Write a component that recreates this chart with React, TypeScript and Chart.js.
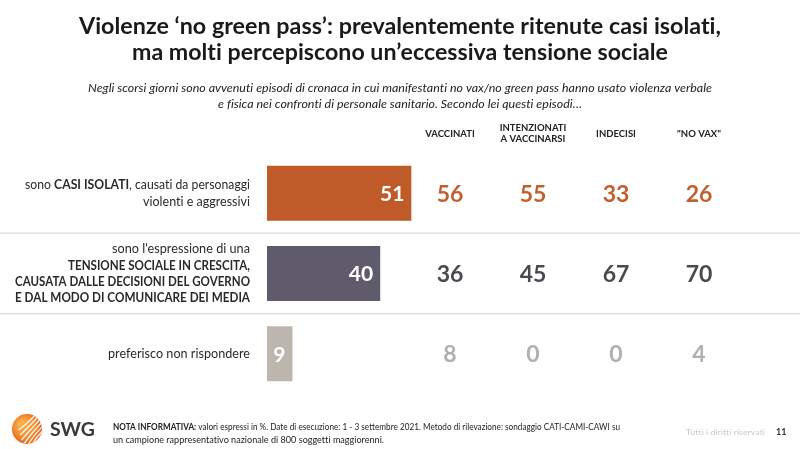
import React, { useEffect, useRef } from "react";
import { Chart, registerables } from "chart.js";

Chart.register(...registerables);

// ---------- DATA ----------
const categories = ["Casi isolati", "Tensione sociale in crescita", "Preferisco non rispondere"];
const totalValues = [51, 40, 9];
const vaccinati = [56, 36, 8];
const intenzionati = [55, 45, 0];
const indecisi = [33, 67, 0];
const noVax = [26, 70, 4];
const columnSeries = [vaccinati, intenzionati, indecisi, noVax];
const columnHeaders = [["VACCINATI"], ["INTENZIONATI", "A VACCINARSI"], ["INDECISI"], ['"NO VAX"']];

type Seg = [string, boolean];
const categoryLabelLines: Seg[][][] = [
  [
    [["sono ", false], ["CASI ISOLATI", true], [", causati da personaggi", false]],
    [["violenti e aggressivi", false]],
  ],
  [
    [["sono l'espressione di una", false]],
    [["TENSIONE SOCIALE IN CRESCITA,", true]],
    [["CAUSATA DALLE DECISIONI DEL GOVERNO", true]],
    [["E DAL MODO DI COMUNICARE DEI MEDIA", true]],
  ],
  [[["preferisco non rispondere", false]]],
];

const titleLines = [
  "Violenze \u2018no green pass\u2019: prevalentemente ritenute casi isolati,",
  "ma molti percepiscono un\u2019eccessiva tensione sociale",
];
const subtitleLines = [
  "Negli scorsi giorni sono avvenuti episodi di cronaca in cui manifestanti no vax/no green pass hanno usato violenza verbale",
  "e fisica nei confronti di personale sanitario. Secondo lei questi episodi\u2026",
];
const noteLine1: Seg[] = [
  ["NOTA INFORMATIVA:", true],
  [" valori espressi in %. Date di esecuzione: 1 - 3 settembre 2021. Metodo di rilevazione: sondaggio CATI-CAMI-CAWI su", false],
];
const noteLine2 = "un campione rappresentativo nazionale di 800 soggetti maggiorenni.";
const rightsText = "Tutti i diritti riservati";
const pageNumber = "11";
const brand = "SWG";

// ---------- STYLE ----------
const FONT = "Lato, 'Open Sans', sans-serif";
const barColors = ["#BF5A29", "#5F5A6C", "#BDB6AF"];
const valueColors = ["#C0602E", "#4A494F", "#B3AFAB"];
const columnX = [450, 533, 616, 699];
const labelLineWidths = [[225, 107], [138, 182, 235, 235], [142]];

function fitText(
  ctx: CanvasRenderingContext2D,
  t: string,
  x: number,
  y: number,
  font: string,
  color: string,
  align: CanvasTextAlign = "center",
  fitW?: number
) {
  ctx.save();
  ctx.font = font;
  (ctx as any).letterSpacing = "0.01px";
  ctx.fillStyle = color;
  ctx.textBaseline = "middle";
  ctx.textAlign = align;
  const w = ctx.measureText(t).width;
  let sx = 1;
  if (fitW) sx = Math.max(0.7, Math.min(1.25, fitW / w));
  ctx.translate(x, y);
  ctx.scale(sx, 1);
  ctx.fillText(t, 0, 0);
  ctx.restore();
}

function drawSegs(
  ctx: CanvasRenderingContext2D,
  segs: Seg[],
  x: number,
  y: number,
  size: number,
  color: string,
  align: "left" | "right",
  fitW?: number
) {
  ctx.save();
  (ctx as any).letterSpacing = "0.01px";
  const fonts = segs.map(([, b]) => `${b ? "bold " : ""}${size}px ${FONT}`);
  const widths = segs.map(([t], i) => {
    ctx.font = fonts[i];
    return ctx.measureText(t).width;
  });
  const total = widths.reduce((a, b) => a + b, 0);
  const sx = fitW ? Math.max(0.7, Math.min(1.3, fitW / total)) : 1;
  ctx.fillStyle = color;
  ctx.textBaseline = "middle";
  ctx.textAlign = "left";
  ctx.translate(align === "right" ? x - total * sx : x, y);
  ctx.scale(sx, 1);
  let cx = 0;
  segs.forEach(([t], i) => {
    ctx.font = fonts[i];
    ctx.fillText(t, cx, 0);
    cx += widths[i];
  });
  ctx.restore();
}

function drawLogo(ctx: CanvasRenderingContext2D) {
  const cx = 27, cy = 429, r = 15;
  ctx.save();
  const g = ctx.createRadialGradient(cx - 6, cy - 6, 2, cx, cy, r + 2);
  g.addColorStop(0, "#F8B04A");
  g.addColorStop(0.6, "#F08A2C");
  g.addColorStop(1, "#DE5A1C");
  ctx.beginPath();
  ctx.arc(cx, cy, r, 0, Math.PI * 2);
  ctx.fillStyle = g;
  ctx.fill();
  ctx.clip();
  ctx.strokeStyle = "rgba(255,255,255,0.9)";
  ctx.lineWidth = 1.4;
  for (let k = -3; k <= 3; k++) {
    ctx.beginPath();
    const off = k * 5;
    ctx.moveTo(cx - 4 + off * 0.3, cy + 16 + off);
    ctx.quadraticCurveTo(cx + 6 + off * 0.2, cy + 2 + off * 0.6, cx + 18, cy - 10 + off);
    ctx.stroke();
  }
  ctx.restore();
}

const overlayPlugin = {
  id: "overlay",
  beforeDatasetsDraw(chart: any) {
    const ctx: CanvasRenderingContext2D = chart.ctx;
    const y = chart.scales.y;
    ctx.save();
    ctx.strokeStyle = "#E0E0E0";
    ctx.lineWidth = 1.5;
    for (let i = 0; i < categories.length - 1; i++) {
      const yy = (y.getPixelForValue(i) + y.getPixelForValue(i + 1)) / 2;
      ctx.beginPath();
      ctx.moveTo(0, yy);
      ctx.lineTo(chart.width, yy);
      ctx.stroke();
    }
    ctx.restore();
  },
  afterDraw(chart: any) {
    const ctx: CanvasRenderingContext2D = chart.ctx;
    const yScale = chart.scales.y;
    const meta = chart.getDatasetMeta(0);

    // Title
    fitText(ctx, titleLines[0], 400, 27, `bold 23px ${FONT}`, "#1a1a1a", "center", 642);
    fitText(ctx, titleLines[1], 400, 53, `bold 23px ${FONT}`, "#1a1a1a", "center", 536);
    // Subtitle
    fitText(ctx, subtitleLines[0], 400, 88, `italic 11.5px ${FONT}`, "#222", "center", 624);
    fitText(ctx, subtitleLines[1], 400, 104, `italic 11.5px ${FONT}`, "#222", "center", 364);

    // Column headers
    columnHeaders.forEach((lines, c) => {
      const n = lines.length;
      lines.forEach((l, k) => {
        const yy = n === 1 ? 134 : 128 + k * 11;
        fitText(ctx, l, columnX[c], yy, `bold 9.5px ${FONT}`, "#222", "center");
      });
    });

    // Category labels
    categoryLabelLines.forEach((lines, i) => {
      const cy = yScale.getPixelForValue(i);
      const lh = 16.3;
      const y0 = cy - ((lines.length - 1) * lh) / 2;
      lines.forEach((segs, k) => {
        drawSegs(ctx, segs, 250, y0 + k * lh, 13, "#2a2a2a", "right", labelLineWidths[i][k]);
      });
    });

    // Values inside bars
    meta.data.forEach((bar: any, i: number) => {
      fitText(ctx, String(totalValues[i]), bar.x - 7, bar.y + 1, `bold 21px ${FONT}`, "#ffffff", "right");
    });

    // Column values
    columnSeries.forEach((series, c) => {
      series.forEach((v, i) => {
        const cy = yScale.getPixelForValue(i);
        fitText(ctx, String(v), columnX[c], cy + 1, `bold 23px ${FONT}`, valueColors[i], "center");
      });
    });

    // Footer
    drawLogo(ctx);
    fitText(ctx, brand, 50, 430, `bold 19px ${FONT}`, "#3a3a3a", "left", 45);
    drawSegs(ctx, noteLine1, 113, 427, 8.5, "#222", "left", 507);
    fitText(ctx, noteLine2, 113, 440, `8.5px ${FONT}`, "#222", "left", 271);
    fitText(ctx, rightsText, 686, 432, `8px ${FONT}`, "#c8c8c8", "left", 79);
    fitText(ctx, pageNumber, 776, 432, `bold 9px ${FONT}`, "#333", "left");
  },
};

export default function App() {
  const ref = useRef<HTMLCanvasElement | null>(null);
  useEffect(() => {
    document.body.style.margin = "0";
    if (!ref.current) return;
    const chart = new Chart(ref.current, {
      type: "bar",
      data: {
        labels: categories,
        datasets: [
          {
            data: totalValues,
            backgroundColor: barColors,
            borderWidth: 0,
            barPercentage: 0.685,
            categoryPercentage: 1,
          },
        ],
      },
      options: {
        indexAxis: "y",
        responsive: false,
        animation: false,
        layout: { padding: { left: 267, right: 250, top: 153, bottom: 55 } },
        scales: {
          x: { display: false, min: 0, max: 100 },
          y: { display: false },
        },
        plugins: { legend: { display: false }, tooltip: { enabled: false } },
      },
      plugins: [overlayPlugin],
    } as any);
    return () => chart.destroy();
  }, []);
  return (
    <div style={{ width: 800, height: 449, background: "#fff" }}>
      <canvas ref={ref} width={800} height={449} style={{ display: "block" }} />
    </div>
  );
}
